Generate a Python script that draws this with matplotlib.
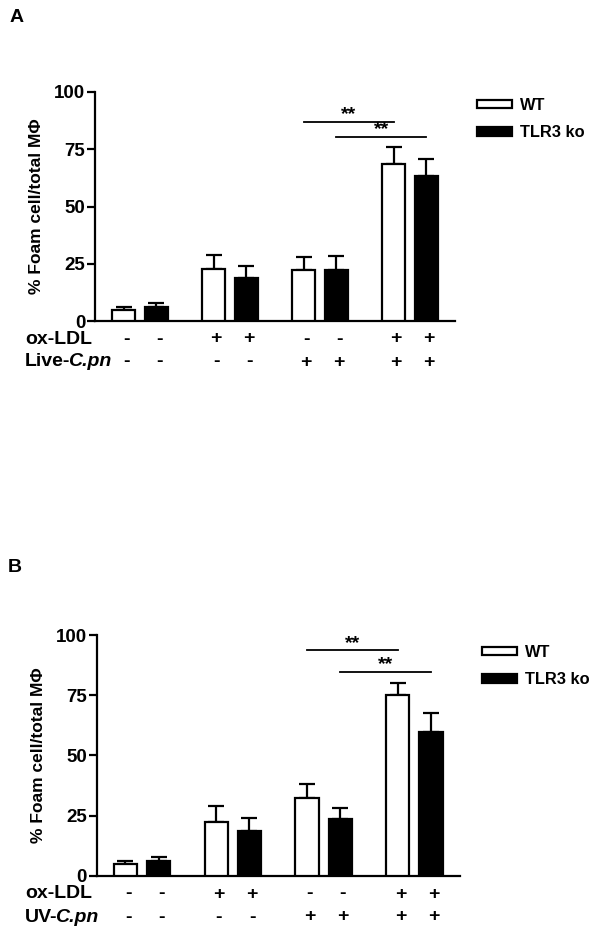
import numpy as np
import matplotlib
matplotlib.use("Agg")
import matplotlib.pyplot as plt
from matplotlib.transforms import blended_transform_factory

plt.rcParams['font.family'] = ['Liberation Sans', 'DejaVu Sans']
plt.rcParams['font.weight'] = 'bold'

# panel A data (Live-C.pn)
a_wt = [4.8, 22.6, 22.1, 68.4]
a_wt_err = [1.5, 6.4, 6.0, 7.4]
a_ko = [6.3, 18.6, 22.3, 63.3]
a_ko_err = [1.4, 5.6, 6.1, 7.3]
a_sig = [87.0, 80.3]

# panel B data (UV-C.pn)
b_wt = [4.7, 22.4, 32.1, 75.1]
b_wt_err = [1.4, 6.5, 5.9, 5.1]
b_ko = [6.1, 18.7, 23.5, 59.8]
b_ko_err = [1.5, 5.4, 4.6, 7.7]
b_sig = [93.6, 84.8]

oxldl = ['-', '-', '+', '+', '-', '-', '+', '+']
cpn = ['-', '-', '-', '-', '+', '+', '+', '+']
yticks = [0, 25, 50, 75, 100]
ylab = '% Foam cell/total M\u03a6'

fig = plt.figure(figsize=(6.04, 9.36), dpi=100)
W, H = 604.0, 936.0


def panel(rect, wt, wterr, ko, koerr, sig, row2name, letter, letpos, rows_px, legpos):
    ax = fig.add_axes(rect)
    g = np.arange(4)
    off = 0.183
    bw = 0.256
    xw = g - off
    xk = g + off
    ax.bar(xw, wt, bw, color='white', edgecolor='black', linewidth=1.6, zorder=3, label='WT')
    ax.bar(xk, ko, bw, color='black', edgecolor='black', linewidth=1.6, zorder=3, label='TLR3 ko')
    ax.errorbar(xw, wt, yerr=[np.zeros(4), wterr], fmt='none', ecolor='black',
                elinewidth=1.6, capsize=5.5, capthick=1.6, zorder=2)
    ax.errorbar(xk, ko, yerr=[np.zeros(4), koerr], fmt='none', ecolor='black',
                elinewidth=1.6, capsize=5.5, capthick=1.6, zorder=2)
    # significance lines
    pairs = [(xw[2], xw[3]), (xk[2], xk[3])]
    for (x0, x1), y in zip(pairs, sig):
        ax.plot([x0, x1], [y, y], color='black', lw=1.3, clip_on=False)
        ax.text((x0 + x1) / 2, y - 0.5, '**', ha='center', va='bottom', fontsize=14, fontweight='bold')
    ax.set_xlim(-0.5, 3.5)
    ax.set_ylim(0, 100)
    ax.set_yticks(yticks)
    ax.set_xticks([])
    for s in ['top', 'right']:
        ax.spines[s].set_visible(False)
    for s in ['left', 'bottom']:
        ax.spines[s].set_linewidth(1.6)
    ax.tick_params(axis='y', length=6, width=1.6, pad=1, labelsize=13.5)
    for t in ax.get_yticklabels():
        t.set_fontweight('bold')
    ax.set_ylabel(ylab, fontsize=12.5, fontweight='bold', labelpad=7)
    # +/- rows
    xs = np.ravel(np.column_stack([xw, xk]))
    tr = blended_transform_factory(ax.transData, fig.transFigure)
    for signs, ypx in zip([oxldl, cpn], rows_px):
        for x, s in zip(xs, signs):
            ax.text(x + 0.03, 1 - ypx / H, s, transform=tr,
                    ha='center', va='center', fontsize=14, fontweight='bold')
    fig.text(25 / W, 1 - rows_px[0] / H, 'ox-LDL', ha='left', va='center', fontsize=14, fontweight='bold')
    t1 = fig.text(25 / W, 1 - rows_px[1] / H, row2name + '-', ha='left', va='center',
                  fontsize=14, fontweight='bold')
    ax.annotate('C.pn', xy=(1, 0.5), xycoords=t1, xytext=(-1.5, 0), textcoords='offset points',
                ha='left', va='center', fontsize=14, fontweight='bold', style='italic')
    fig.text(letpos[0] / W, 1 - letpos[1] / H, letter, ha='center', va='center', fontsize=14, fontweight='bold')
    ax.legend(loc='upper left', bbox_to_anchor=(legpos[0] / W, 1 - legpos[1] / H),
              bbox_transform=fig.transFigure, frameon=False, borderpad=0, borderaxespad=0,
              handlelength=2.15, handleheight=0.42, handletextpad=0.45, labelspacing=0.75,
              prop={'size': 11.8, 'weight': 'bold'})
    return ax


panel([95 / W, 1 - 321 / H, 360 / W, 229 / H], a_wt, a_wt_err, a_ko, a_ko_err, a_sig,
      'Live', 'A', (17, 18), (339, 362), (477, 98))
panel([96.7 / W, 1 - 875.7 / H, 363 / W, 240.7 / H], b_wt, b_wt_err, b_ko, b_ko_err, b_sig,
      'UV', 'B', (15, 567), (894, 917), (482, 645))

fig.savefig('out.png', dpi=100)
